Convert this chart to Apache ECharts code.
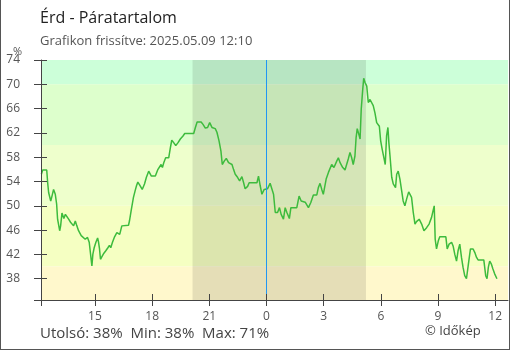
<!DOCTYPE html>
<html>
<head>
<meta charset="utf-8">
<script src="https://cdn.jsdelivr.net/npm/echarts@6/dist/echarts.min.js"></script>
<style>
html,body{margin:0;padding:0;background:#fff;}
#wrap{position:relative;width:510px;height:350px;}
#c{position:absolute;left:0;top:0;width:510px;height:350px;}
#frame{position:absolute;left:0;top:0;width:510px;height:350px;box-sizing:border-box;border-left:1px solid #555;border-right:1px solid #555;border-bottom:1px solid #555;pointer-events:none;}
</style>
</head>
<body>
<div id="wrap"><div id="c"></div><div id="frame"></div></div>
<script>
// Time in hours relative to 2025-05-09 00:00
const hours = [
-11.81,-11.74,-11.53,-11.48,-11.43,-11.32,-11.27,-11.17,-11.08,-11.01,
-10.96,-10.85,-10.80,-10.73,-10.63,-10.55,-10.45,-10.38,-10.28,-10.21,
-10.12,-10.03,-9.95,-9.86,-9.72,-9.63,-9.51,-9.39,-9.30,-9.25,
-9.16,-9.11,-9.04,-8.95,-8.86,-8.81,-8.76,-8.71,-8.64,-8.53,
-8.43,-8.32,-8.24,-8.17,-8.08,-7.97,-7.85,-7.76,-7.70,-7.59,
-7.24,-7.19,-7.10,-6.98,-6.89,-6.82,-6.75,-6.65,-6.52,-6.40,
-6.30,-6.18,-6.13,-6.04,-5.83,-5.71,-5.53,-5.46,-5.39,-5.29,
-5.13,-5.04,-4.97,-4.87,-4.76,-4.64,-4.52,-4.38,-4.29,-3.82,
-3.73,-3.64,-3.43,-3.33,-3.21,-3.09,-2.98,-2.86,-2.69,-2.60,
-2.49,-2.39,-2.32,-2.21,-2.11,-1.99,-1.94,-1.81,-1.73,-1.64,
-1.52,-1.41,-1.29,-1.20,-1.12,-0.99,-0.91,-0.50,-0.42,-0.33,
-0.24,-0.12,0.05,0.19,0.28,0.37,0.46,0.58,0.68,0.77,
0.89,0.98,1.07,1.20,1.28,1.59,1.71,1.82,2.03,2.20,
2.32,2.46,2.64,2.72,2.81,2.90,2.98,3.13,3.25,3.42,
3.54,3.69,3.77,3.86,4.00,4.12,4.21,4.29,4.38,4.47,
4.55,4.64,4.70,4.76,4.87,4.91,4.97,5.05,5.10,5.17,
5.26,5.34,5.43,5.52,5.60,5.69,5.78,5.92,5.99,6.07,
6.16,6.23,6.30,6.37,6.42,6.48,6.57,6.65,6.77,6.83,
6.91,7.00,7.09,7.17,7.26,7.35,7.46,7.52,7.61,7.70,
7.79,7.87,8.01,8.14,8.26,8.40,8.53,8.66,8.74,8.80,
8.85,8.92,9.01,9.09,9.41,9.48,9.58,9.71,9.79,9.88,
9.97,10.05,10.14,10.23,10.31,10.40,10.49,10.58,10.70,10.84,
10.93,11.02,11.10,11.40,11.50,11.57,11.64,11.71,11.80,11.88,
11.97,12.09
];
const humidity = [
55.2,55.9,55.9,53.8,52.2,50.8,51.4,52.7,51.9,50.3,
47.8,45.9,46.7,48.8,47.9,48.6,48.9,47.8,47.3,47.6,
46.7,47.5,46.7,45.9,45.1,45.3,44.5,44.8,44.0,42.6,
40.1,42.0,43.1,44.0,44.7,44.0,42.9,41.2,41.6,42.2,
42.6,43.1,43.5,43.1,44.0,44.9,45.6,45.9,45.3,46.7,
46.8,47.5,49.2,51.4,52.5,53.3,53.9,53.4,52.7,53.6,
54.7,55.7,55.9,54.9,54.9,55.9,56.8,56.3,57.1,57.9,
57.9,59.6,60.8,60.4,59.9,60.4,61.0,61.5,61.9,61.9,
62.9,63.8,63.8,63.4,62.8,62.9,63.7,62.9,62.7,62.1,
60.7,59.0,56.8,57.4,57.8,57.1,56.8,56.8,56.0,55.2,
54.7,54.1,54.8,53.8,52.8,53.2,53.8,53.8,54.9,53.3,
51.9,52.7,52.8,53.7,53.4,51.9,48.9,48.9,49.7,48.6,
47.8,49.7,48.9,47.9,49.7,49.7,51.6,50.8,50.6,49.7,
50.5,51.8,51.8,53.0,53.7,52.7,51.9,54.4,55.5,56.8,
56.3,57.4,57.9,57.1,56.3,55.9,55.9,57.7,58.8,57.9,
56.8,58.2,61.2,62.7,61.5,61.0,65.9,69.2,71.0,70.3,
69.7,67.0,67.5,67.6,66.5,65.3,63.7,63.1,60.7,59.3,
57.9,56.8,61.5,62.9,60.4,58.2,54.7,53.6,53.0,55.2,
55.7,54.4,52.5,50.8,50.0,51.1,52.3,52.6,51.4,48.9,
47.0,47.4,47.8,47.0,45.9,46.4,47.0,48.1,49.2,50.0,
44.5,42.9,44.2,44.9,44.9,42.9,43.7,44.0,43.4,42.0,
40.9,42.6,43.7,41.5,39.9,38.5,38.0,40.1,42.9,42.9,
42.3,41.5,41.1,41.1,38.5,38.0,39.9,40.9,40.4,39.6,
38.8,38.0
];
const xRange = [-11.83, 12.67];
const yRange = [34.5, 74];
const xTickHours = [-9, -6, -3, 0, 3, 6, 9, 12];
const yTickValues = [38, 42, 46, 50, 54, 58, 62, 66, 70, 74];
const night = [-3.88, 5.22];
const bandEdges = [[70, 74], [60, 70], [50, 60], [40, 50], [34.5, 40]];
const bandColors = ['#ccffd9', '#ddffcc', '#eeffcc', '#f5ffc2', '#fff8cc'];
const titleText = 'Érd - Páratartalom';
const subText = 'Grafikon frissítve: 2025.05.09 12:10';

const data = hours.map((h, i) => [h, humidity[i]]);
const last = Math.round(humidity[humidity.length - 1]);
const mn = Math.round(Math.min(...humidity));
const mx = Math.round(Math.max(...humidity));
const FONT = '"Open Sans", "Noto Sans", sans-serif';

const chart = echarts.init(document.getElementById('c'), null, {renderer: 'canvas'});
const gridBox = {left: 41, right: 2, top: 60, bottom: 50, containLabel: false};
const baseX = {
  type: 'value', min: xRange[0], max: xRange[1], position: 'bottom',
  splitLine: {show: false}
};
const baseY = {
  type: 'value', min: yRange[0], max: yRange[1], position: 'left',
  splitLine: {show: false}
};
chart.setOption({
  animation: false,
  grid: [Object.assign({}, gridBox), Object.assign({}, gridBox)],
  xAxis: [
    Object.assign({}, baseX, {
      gridIndex: 0, z: 10,
      axisLine: {show: true, onZero: false, lineStyle: {color: '#444', width: 1}},
      axisTick: {show: true, inside: false, length: 6, lineStyle: {color: '#444'}, customValues: [xRange[0]].concat(xTickHours)},
      axisLabel: {show: true, customValues: xTickHours, margin: 11, color: '#555', fontSize: 12, fontFamily: FONT,
        formatter: v => String(((Math.round(v) % 24) + 24) % 24)}
    }),
    Object.assign({}, baseX, {
      gridIndex: 1, z: 10,
      axisLine: {show: false, onZero: false},
      axisTick: {show: true, inside: true, length: 6, lineStyle: {color: '#444'}, customValues: xTickHours},
      axisLabel: {show: false}
    })
  ],
  yAxis: [
    Object.assign({}, baseY, {
      gridIndex: 0, z: 10,
      axisLine: {show: true, onZero: false, lineStyle: {color: '#444', width: 1}},
      axisTick: {show: true, inside: false, length: 7, lineStyle: {color: '#444'}, customValues: [yRange[0]].concat(yTickValues)},
      axisLabel: {show: true, customValues: yTickValues, margin: 21, color: '#555', fontSize: 12, fontFamily: FONT}
    }),
    Object.assign({}, baseY, {
      gridIndex: 1, z: 10,
      axisLine: {show: false, onZero: false},
      axisTick: {show: true, inside: true, length: 6, lineStyle: {color: '#444'}, customValues: yTickValues},
      axisLabel: {show: false}
    })
  ],
  graphic: [
    {type: 'text', left: 40, top: 10, style: {text: titleText, font: '16px ' + FONT, fill: '#222'}},
    {type: 'text', left: 40, top: 35, style: {text: subText, font: '13px ' + FONT, fill: '#555'}},
    {type: 'text', right: 488, top: 46, style: {text: '%', font: '11px ' + FONT, fill: '#555'}},
    {type: 'text', left: 40, top: 326, style: {text: 'Utolsó: ' + last + '%  Min: ' + mn + '%  Max: ' + mx + '%', font: '15px ' + FONT, fill: '#444'}},
    {type: 'text', left: 425, top: 325, style: {text: '© Időkép', font: '13px ' + FONT, fill: '#444'}}
  ],
  series: [
    {
      type: 'line', data: [], z: 1, silent: true, xAxisIndex: 0, yAxisIndex: 0,
      markArea: {
        silent: true, label: {show: false},
        data: bandEdges.map((b, i) => [
          {yAxis: b[0], itemStyle: {color: bandColors[i]}},
          {yAxis: b[1]}
        ])
      }
    },
    {
      type: 'line', data: [], z: 2, silent: true, xAxisIndex: 0, yAxisIndex: 0,
      markArea: {
        silent: true, label: {show: false},
        itemStyle: {color: 'rgba(0,0,0,0.1)'},
        data: [[{xAxis: night[0]}, {xAxis: night[1]}]]
      }
    },
    {
      type: 'line', data: data, z: 4, symbol: 'none', clip: true, xAxisIndex: 0, yAxisIndex: 0,
      lineStyle: {color: '#3dbb3d', width: 1.5},
      markLine: {
        silent: true, symbol: 'none', label: {show: false},
        lineStyle: {color: '#2196f3', width: 1, type: 'solid'},
        data: [{xAxis: 0}]
      }
    }
  ]
});
</script>
</body>
</html>
